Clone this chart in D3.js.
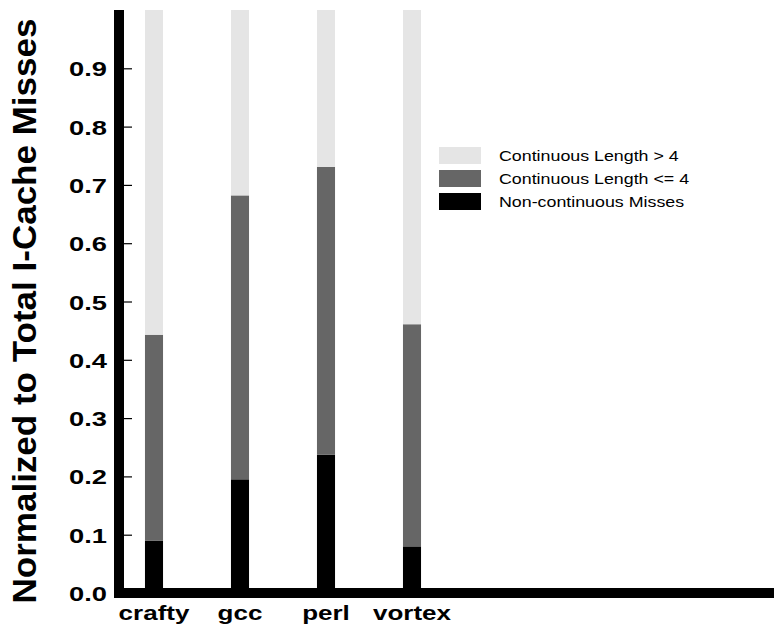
<!DOCTYPE html>
<html>
<head>
<meta charset="utf-8">
<script src="https://cdn.jsdelivr.net/npm/d3@7"></script>
<style>
  html, body { margin: 0; padding: 0; background: #fff; }
  svg { display: block; }
  text { font-family: "Liberation Sans", Arial, Helvetica, sans-serif; }
</style>
</head>
<body>
<svg id="chart" width="774" height="634"></svg>
<script>
// Benchmarks and their share of I-cache misses, by kind
const benchmarks = ["crafty", "gcc", "perl", "vortex"];
const nonContinuous = [0.090, 0.195, 0.237, 0.080];
const continuousShort = [0.353, 0.487, 0.494, 0.381];   // continuous length <= 4
const continuousLong = [0.557, 0.318, 0.269, 0.539];    // continuous length > 4
const seriesKeys = ["nonContinuous", "continuousShort", "continuousLong"];
const seriesLabels = ["Continuous Length > 4", "Continuous Length <= 4", "Non-continuous Misses"];
const yTickValues = [0, 0.1, 0.2, 0.3, 0.4, 0.5, 0.6, 0.7, 0.8, 0.9];
const yTitle = "Normalized to Total I-Cache Misses";

const colors = {
  nonContinuous: "#000000",
  continuousShort: "#666666",
  continuousLong: "#e5e5e5"
};

const rows = benchmarks.map((b, i) => ({
  bench: b,
  nonContinuous: nonContinuous[i],
  continuousShort: continuousShort[i],
  continuousLong: continuousLong[i]
}));

const svg = d3.select("#chart");

const plotLeft = 124, plotRight = 774, plotTop = 10, zeroY = 593;
const axisThick = 10;
const hStretch = 1.3;

const y = d3.scaleLinear().domain([0, 1]).range([zeroY, plotTop]);
const x = d3.scaleBand()
  .domain(benchmarks)
  .range([111, 455])
  .paddingInner(0.79)
  .paddingOuter(0.395);

// Stacked bars
const stack = d3.stack().keys(seriesKeys);
const layers = stack(rows);

svg.append("g").selectAll("g")
  .data(layers)
  .join("g")
  .attr("fill", d => colors[d.key])
  .selectAll("rect")
  .data(d => d)
  .join("rect")
  .attr("x", d => x(d.data.bench))
  .attr("width", x.bandwidth())
  .attr("y", d => y(d[1]))
  .attr("height", d => y(d[0]) - y(d[1]));

// Heavy axis lines
svg.append("rect")
  .attr("x", plotLeft - axisThick).attr("y", plotTop)
  .attr("width", axisThick).attr("height", zeroY + axisThick / 2 - plotTop)
  .attr("fill", "#000");
svg.append("rect")
  .attr("x", plotLeft - axisThick).attr("y", zeroY - axisThick / 2)
  .attr("width", plotRight - plotLeft + axisThick).attr("height", axisThick)
  .attr("fill", "#000");

// Y axis ticks (pointing inward) and labels
const yAxis = svg.append("g")
  .attr("transform", `translate(${plotLeft},0)`)
  .call(d3.axisLeft(y).tickValues(yTickValues).tickSize(-8).tickFormat(d3.format(".1f")));
yAxis.select(".domain").remove();
yAxis.selectAll(".tick line").attr("stroke", "#000").attr("stroke-width", 1.2);
yAxis.selectAll(".tick text")
  .attr("x", 0)
  .attr("dy", "0.36em")
  .attr("transform", `translate(-17,0) scale(${hStretch},1)`)
  .attr("text-anchor", "end")
  .style("font-size", "21px")
  .style("font-weight", "bold")
  .attr("fill", "#000");

// X axis labels
const xAxis = svg.append("g")
  .attr("transform", `translate(0,${zeroY})`)
  .call(d3.axisBottom(x).tickSize(0).tickPadding(13));
xAxis.select(".domain").remove();
xAxis.selectAll(".tick text")
  .attr("y", 0)
  .attr("transform", `translate(0,13) scale(${hStretch},1)`)
  .style("font-size", "20px")
  .style("font-weight", "bold")
  .attr("fill", "#000");

// Y axis title
svg.append("text")
  .attr("transform", "translate(36,311) rotate(-90)")
  .attr("text-anchor", "middle")
  .attr("textLength", 585)
  .attr("lengthAdjust", "spacingAndGlyphs")
  .style("font-size", "33px")
  .style("font-weight", "bold")
  .attr("fill", "#000")
  .text(yTitle);

// Legend
const legendKeys = ["continuousLong", "continuousShort", "nonContinuous"];
const legend = svg.append("g").attr("transform", "translate(439,147)");
const item = legend.selectAll("g")
  .data(legendKeys)
  .join("g")
  .attr("transform", (d, i) => `translate(0,${i * 23})`);
item.append("rect")
  .attr("width", 42).attr("height", 17)
  .attr("fill", d => colors[d]);
item.append("text")
  .attr("transform", "translate(60,14) scale(1.15,1)")
  .style("font-size", "15.5px")
  .attr("fill", "#000")
  .text((d, i) => seriesLabels[i]);
</script>
</body>
</html>
